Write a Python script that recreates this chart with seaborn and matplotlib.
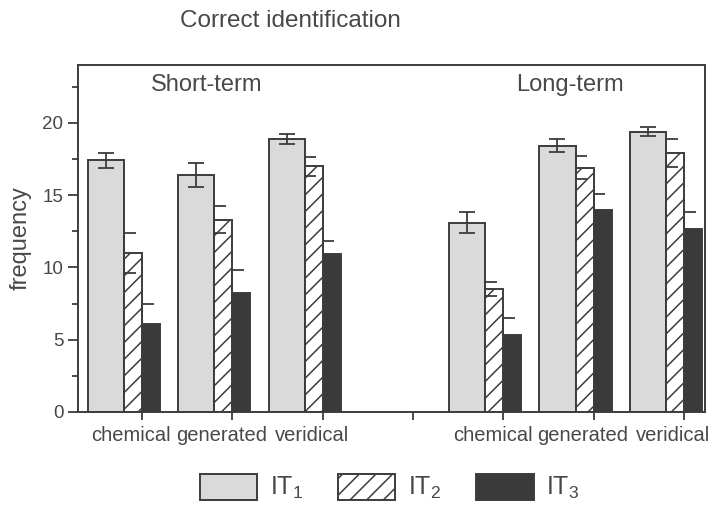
import numpy as np
import matplotlib
matplotlib.use("Agg")
import matplotlib.pyplot as plt
from matplotlib.patches import Patch
import seaborn as sns

# data
conditions = ["chemical", "generated", "veridical", "chemical", "generated", "veridical"]
group_pos = [0, 1, 2, 4, 5, 6]
it1 = [17.4, 16.4, 18.9, 13.1, 18.4, 19.4]
it1_err = [0.5, 0.85, 0.35, 0.75, 0.45, 0.3]
it2 = [11.0, 13.3, 17.0, 8.5, 16.9, 17.9]
it2_err = [1.4, 0.95, 0.65, 0.5, 0.8, 0.95]
it3 = [6.1, 8.2, 10.9, 5.3, 13.95, 12.65]
it3_err = [1.35, 1.6, 0.9, 1.2, 1.1, 1.2]

ink = "#3c3c3c"
txt = "#484848"
light = "#dadada"
dark = "#3a3a3a"

sns.set_style("ticks")
plt.rcParams["font.family"] = ["Liberation Sans", "DejaVu Sans"]
plt.rcParams["hatch.linewidth"] = 1.1
plt.rcParams["hatch.color"] = ink

fig = plt.figure(figsize=(7.11, 5.08), dpi=100)
ax = fig.add_axes([0.1097, 0.189, 0.882, 0.683])

g = np.array(group_pos, dtype=float)
x1 = g - 0.4
x2 = g - 0.1
x3 = g + 0.1

sns.barplot(x=x1, y=it1, native_scale=True, width=0.4, color=light, saturation=1,
            edgecolor=ink, linewidth=1.4, errorbar=None, ax=ax)
sns.barplot(x=x2, y=it2, native_scale=True, width=0.2, color="white", saturation=1,
            edgecolor=ink, linewidth=1.4, hatch="//", errorbar=None, ax=ax)
sns.barplot(x=x3, y=it3, native_scale=True, width=0.2, color=dark, saturation=1,
            edgecolor=ink, linewidth=1.4, errorbar=None, ax=ax)

# error bars: IT1 centred, IT2/IT3 drawn on the left edge with a short cap
ax.errorbar(x1, it1, yerr=it1_err, fmt="none", ecolor=ink, elinewidth=1.3,
            capsize=6, capthick=1.3, zorder=5)
for left, vals, errs in [(g - 0.2, it2, it2_err), (g, it3, it3_err)]:
    vals = np.array(vals)
    errs = np.array(errs)
    ax.vlines(left, vals - errs, vals + errs, color=ink, lw=1.3, zorder=5)
    ax.hlines(vals + errs, left, left + 0.13, color=ink, lw=1.3, zorder=5)
    ax.hlines(vals - errs, left, left + 0.13, color=ink, lw=1.3, zorder=5)

ax.set_xlim(-0.71, 6.235)
ax.set_ylim(0, 24)
ax.set_yticks([0, 5, 10, 15, 20])
ax.set_yticks(np.arange(2.5, 24, 5), minor=True)
ax.set_xticks([0, 1, 2, 3, 4, 5, 6])
ax.set_xticklabels([])
ax.set_xticks(g - 0.12, minor=True)
ax.set_xticklabels(conditions, minor=True)
ax.tick_params(axis="x", which="minor", length=0, pad=10, labelsize=14.5, labelcolor=txt)
ax.tick_params(axis="x", which="major", length=6, width=1.3, color=ink)
ax.tick_params(axis="y", which="major", length=7, width=1.3, color=ink, labelsize=13.5, labelcolor=txt)
ax.tick_params(axis="y", which="minor", length=4, width=1.3, color=ink)
for s in ax.spines.values():
    s.set_color(ink)
    s.set_linewidth(1.4)
ax.set_xlabel("")
ax.set_ylabel("frequency", fontsize=17, color=txt, labelpad=8)

ax.text(0.71, 22.6, "Short-term", fontsize=17, color=txt, ha="center", va="center")
ax.text(4.74, 22.6, "Long-term", fontsize=17, color=txt, ha="center", va="center")
fig.text(0.408, 0.958, "Correct identification", fontsize=17.5, color=txt, ha="center", va="center")

handles = [Patch(facecolor=light, edgecolor=ink, linewidth=1.4),
           Patch(facecolor="white", edgecolor=ink, linewidth=1.4, hatch="//"),
           Patch(facecolor=dark, edgecolor=ink, linewidth=1.4)]
labels = [r"$\mathregular{IT_1}$", r"$\mathregular{IT_2}$", r"$\mathregular{IT_3}$"]
leg = fig.legend(handles, labels, loc="center", bbox_to_anchor=(0.548, 0.04), ncol=3,
                 frameon=False, fontsize=18, handlelength=2.3, handleheight=1.2,
                 handletextpad=0.5, columnspacing=1.4, labelcolor=txt)

fig.savefig("out.png", dpi=100)
